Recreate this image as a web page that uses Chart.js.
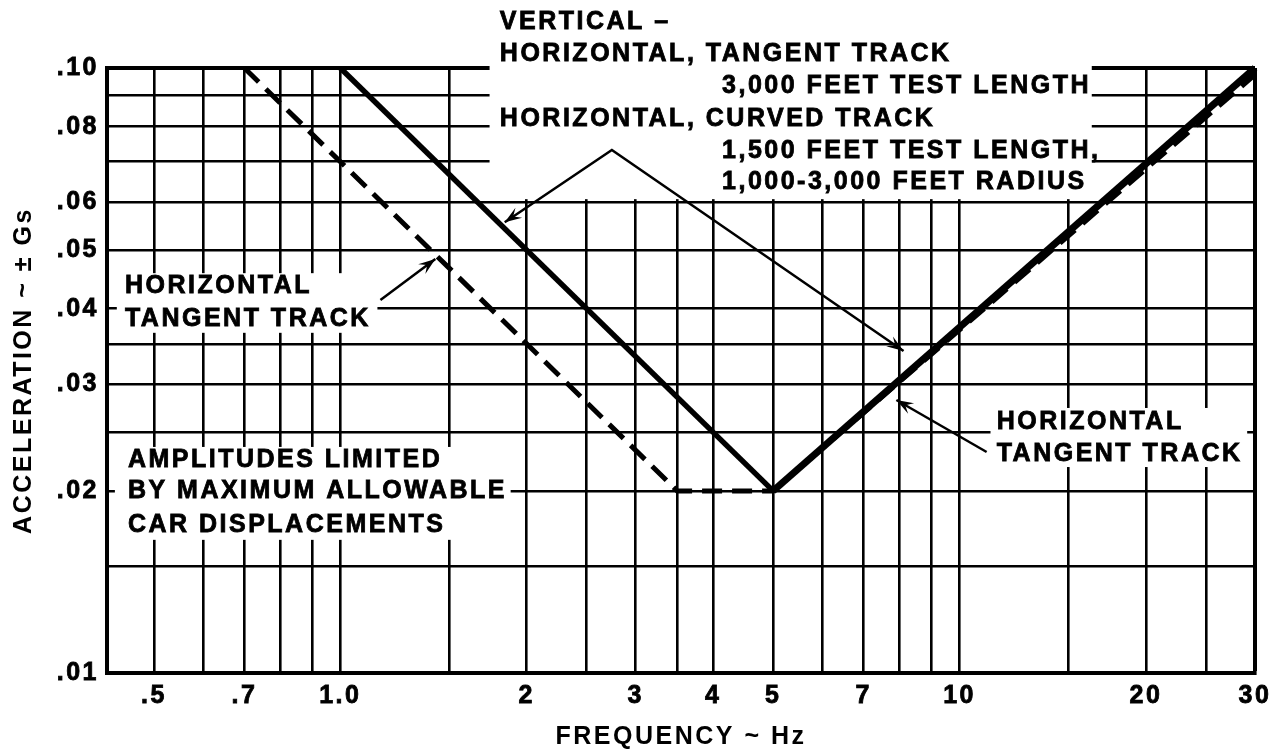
<!DOCTYPE html>
<html>
<head>
<meta charset="utf-8">
<script src="https://cdn.jsdelivr.net/npm/chart.js@4"></script>
<style>
  html, body { margin: 0; padding: 0; background: #fff; }
  canvas { display: block; }
</style>
</head>
<body>
<canvas id="myChart" width="1282" height="756"></canvas>
<script>
// frequency axis (Hz)
var freqGrid = [0.5, 0.6, 0.7, 0.8, 0.9, 1, 1.5, 2, 2.5, 3, 3.5, 4, 5, 6, 7, 8, 9, 10, 15, 20, 25, 30];
var freqTickValues = [0.5, 0.7, 1, 2, 3, 4, 5, 7, 10, 20, 30];
var freqTickLabels = ['.5', '.7', '1.0', '2', '3', '4', '5', '7', '10', '20', '30'];

// acceleration axis (Gs)
var accelGrid = [0.01, 0.015, 0.02, 0.025, 0.03, 0.035, 0.04, 0.05, 0.06, 0.07, 0.08, 0.09, 0.1];
var accelTickValues = [0.01, 0.02, 0.03, 0.04, 0.05, 0.06, 0.08, 0.1];
var accelTickLabels = ['.01', '.02', '.03', '.04', '.05', '.06', '.08', '.10'];

// solid curve
var curvedFreq = [1.0, 5, 30];
var curvedAccel = [0.10, 0.02, 0.10];

// dashed curve (horizontal tangent track)
var tangentFreq = [0.7, 3.5, 5, 30];
var tangentAccel = [0.10, 0.02, 0.02, 0.0975];

function toPoints(xs, ys) {
  return xs.map(function(x, i) { return { x: x, y: ys[i] }; });
}

// annotations, placed in data units
var labelBoxes = [
  { x0: 1.742, x1: 16.35, y0: 0.0607, y1: 0.14 },
  { x0: 0.4356, x1: 1.148, y0: 0.0365, y1: 0.0458 },
  { x0: 0.4325, x1: 1.884, y0: 0.0166, y1: 0.02364 },
  { x0: 11.22, x1: 29.14, y0: 0.0219, y1: 0.02742 }
];
var labelLines = [
  { text: 'VERTICAL –', x: 1.81, y: 0.1191 },
  { text: 'HORIZONTAL, TANGENT TRACK', x: 1.81, y: 0.1055 },
  { text: '3,000 FEET TEST LENGTH', x: 4.135, y: 0.0934 },
  { text: 'HORIZONTAL, CURVED TRACK', x: 1.81, y: 0.0824 },
  { text: '1,500 FEET TEST LENGTH,', x: 4.135, y: 0.0729 },
  { text: '1,000-3,000 FEET RADIUS', x: 4.135, y: 0.0648 },
  { text: 'HORIZONTAL', x: 0.449, y: 0.0436 },
  { text: 'TANGENT TRACK', x: 0.449, y: 0.03846 },
  { text: 'AMPLITUDES LIMITED', x: 0.4539, y: 0.02249 },
  { text: 'BY MAXIMUM ALLOWABLE', x: 0.4539, y: 0.02 },
  { text: 'CAR DISPLACEMENTS', x: 0.4539, y: 0.01757 },
  { text: 'HORIZONTAL', x: 11.48, y: 0.026 },
  { text: 'TANGENT TRACK', x: 11.48, y: 0.02301 }
];
// each pointer: polyline, arrow at first and/or last point
var pointers = [
  { pts: [[1.843, 0.0556], [2.745, 0.0732], [8.12, 0.03405]], start: true, end: true },
  { pts: [[1.161, 0.04135], [1.424, 0.04834]], start: false, end: true },
  { pts: [[11.06, 0.02319], [7.907, 0.02826]], start: false, end: true }
];

var FONT = 'bold 25px "Liberation Sans", Arial, sans-serif';

function arrowHead(c, fx, fy, tx, ty) {
  var a = Math.atan2(ty - fy, tx - fx);
  var len = 17, half = 6;
  var ca = Math.cos(a), sa = Math.sin(a);
  c.beginPath();
  c.moveTo(tx, ty);
  c.lineTo(tx - len * ca + half * sa, ty - len * sa - half * ca);
  c.lineTo(tx - len * 0.6 * ca, ty - len * 0.6 * sa);
  c.lineTo(tx - len * ca - half * sa, ty - len * sa + half * ca);
  c.closePath();
  c.fill();
}

var notesPlugin = {
  id: 'notes',
  beforeDraw: function(chart) {
    var c = chart.ctx;
    c.save();
    c.fillStyle = '#fff';
    c.fillRect(0, 0, chart.width, chart.height);
    c.restore();
    c.letterSpacing = '2.5px';
  },
  beforeDatasetsDraw: function(chart) {
    var c = chart.ctx, xs = chart.scales.x, ys = chart.scales.y;
    c.save();
    c.fillStyle = '#fff';
    labelBoxes.forEach(function(b) {
      var l = xs.getPixelForValue(b.x0), r = xs.getPixelForValue(b.x1);
      var t = ys.getPixelForValue(b.y1), bt = ys.getPixelForValue(b.y0);
      c.fillRect(l, t, r - l, bt - t);
    });
    c.fillStyle = '#000';
    c.strokeStyle = '#000';
    c.lineWidth = 0.8;
    c.font = FONT;
    c.letterSpacing = '2.5px';
    c.textBaseline = 'middle';
    c.textAlign = 'left';
    labelLines.forEach(function(t) {
      var px = xs.getPixelForValue(t.x), py = ys.getPixelForValue(t.y);
      c.fillText(t.text, px, py);
      c.strokeText(t.text, px, py);
    });
    c.restore();
  },
  afterDatasetsDraw: function(chart) {
    var c = chart.ctx, xs = chart.scales.x, ys = chart.scales.y;
    c.save();
    c.strokeStyle = '#000';
    c.fillStyle = '#000';
    c.lineWidth = 2.5;
    pointers.forEach(function(p) {
      var px = p.pts.map(function(q) { return [xs.getPixelForValue(q[0]), ys.getPixelForValue(q[1])]; });
      c.beginPath();
      px.forEach(function(q, i) { if (i === 0) c.moveTo(q[0], q[1]); else c.lineTo(q[0], q[1]); });
      c.stroke();
      var n = px.length;
      if (p.start) arrowHead(c, px[1][0], px[1][1], px[0][0], px[0][1]);
      if (p.end) arrowHead(c, px[n - 2][0], px[n - 2][1], px[n - 1][0], px[n - 1][1]);
    });
    c.restore();
  }
};

Chart.defaults.font.family = '"Liberation Sans", Arial, sans-serif';
Chart.defaults.font.size = 25;
Chart.defaults.font.weight = 'bold';
Chart.defaults.color = '#000';

var ctx = document.getElementById('myChart').getContext('2d');
var myChart = new Chart(ctx, {
  type: 'line',
  data: {
    datasets: [{
      label: 'Vertical – horizontal, tangent track / horizontal, curved track',
      data: toPoints(curvedFreq, curvedAccel),
      borderColor: '#000',
      borderWidth: 5.5,
      pointRadius: 0,
      clip: 8,
      segment: {
        borderWidth: function(s) { return s.p0DataIndex >= 1 ? 7 : 5.5; }
      }
    }, {
      label: 'Horizontal tangent track',
      data: toPoints(tangentFreq, tangentAccel),
      borderColor: '#000',
      borderWidth: 5,
      borderDash: [20, 10],
      pointRadius: 0,
      clip: 8
    }]
  },
  options: {
    responsive: false,
    animation: false,
    events: [],
    layout: { padding: { top: 68, right: 27, left: 0, bottom: 0 } },
    plugins: { legend: { display: false }, tooltip: { enabled: false } },
    scales: {
      x: {
        type: 'logarithmic',
        min: 0.42,
        max: 30,
        afterBuildTicks: function(s) { s.ticks = freqGrid.map(function(v) { return { value: v }; }); },
        afterFit: function(s) { s.height = 83; },
        grid: {
          color: '#000',
          drawTicks: false,
          lineWidth: function(g) { return g.tick && g.tick.value === 30 ? 4 : 2.6; }
        },
        border: { color: '#000', width: 4 },
        ticks: {
          autoSkip: false,
          maxRotation: 0,
          padding: 8,
          textStrokeColor: '#000',
          textStrokeWidth: 0.8,
          callback: function(v) {
            var i = freqTickValues.indexOf(v);
            return i >= 0 ? freqTickLabels[i] : '';
          }
        },
        title: { display: true, text: 'FREQUENCY ~ Hz', padding: { top: 0, bottom: 4 } }
      },
      y: {
        type: 'logarithmic',
        min: 0.01,
        max: 0.1,
        afterBuildTicks: function(s) { s.ticks = accelGrid.map(function(v) { return { value: v }; }); },
        afterFit: function(s) { s.width = 107; },
        grid: {
          color: '#000',
          drawTicks: false,
          lineWidth: function(g) { return g.tick && g.tick.value === 0.1 ? 4 : 2.6; }
        },
        border: { color: '#000', width: 4 },
        ticks: {
          autoSkip: false,
          padding: 8,
          textStrokeColor: '#000',
          textStrokeWidth: 0.8,
          callback: function(v) {
            var i = accelTickValues.indexOf(v);
            return i >= 0 ? accelTickLabels[i] : '';
          }
        },
        title: { display: true, text: 'ACCELERATION ~ ± Gs', padding: { top: 9, bottom: 0 } }
      }
    }
  },
  plugins: [notesPlugin]
});
</script>
</body>
</html>
